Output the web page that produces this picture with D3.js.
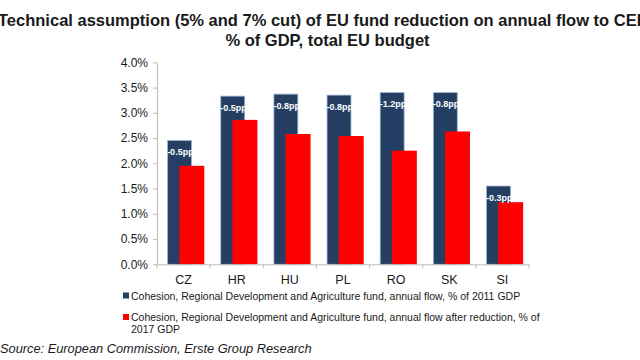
<!DOCTYPE html>
<html><head><meta charset="utf-8">
<script src="https://cdn.jsdelivr.net/npm/d3@7"></script>
<style>body{margin:0;background:#fff;overflow:hidden}svg{display:block;font-family:"Liberation Sans",Arial,sans-serif}</style>
</head><body>
<svg id="c" width="640" height="360"></svg>
<script>
const categories = ["CZ","HR","HU","PL","RO","SK","SI"];
const flow2011 = [2.45,3.33,3.37,3.35,3.40,3.40,1.55];
const flowAfter = [1.95,2.86,2.58,2.54,2.25,2.63,1.23];
const cutLabels = ["-0.5pp","-0.5pp","-0.8pp","-0.8pp","-1.2pp","-0.8pp","-0.3pp"];
const yTicks = [0,0.005,0.01,0.015,0.02,0.025,0.03,0.035,0.04];
const titleLines = ["Technical assumption (5% and 7% cut) of EU fund reduction on annual flow to CEE","% of GDP, total EU budget"];
const legendLabels = ["Cohesion, Regional Development and Agriculture fund, annual flow, % of 2011 GDP",
  ["Cohesion, Regional Development and Agriculture fund, annual flow after reduction, % of","2017 GDP"]];
const source = "Source: European Commission, Erste Group Research";

const navy = "#243F63", red = "#FF0000", txt = "#1a1a1a";
const svg = d3.select("#c");
const x0 = 157, x1 = 529, yTop = 62.3, yBot = 264.3;
const x = d3.scaleBand().domain(categories).range([x0, x1]);
const y = d3.scaleLinear().domain([0, 0.04]).range([yBot, yTop]);

// title
svg.append("text").attr("x",-2).attr("y",26).attr("font-size",16.5).attr("font-weight","bold").attr("fill",txt).text(titleLines[0]);
svg.append("text").attr("x",327.5).attr("y",46).attr("text-anchor","middle").attr("font-size",16.5).attr("font-weight","bold").attr("fill",txt).text(titleLines[1]);

// y axis
const yAxis = d3.axisLeft(y).tickValues(yTicks).tickFormat(d3.format(".1%")).tickSize(4).tickSizeOuter(0);
const gy = svg.append("g").attr("transform",`translate(${x0},0)`).call(yAxis);
gy.select(".domain").attr("stroke","#bbb");
gy.selectAll(".tick line").attr("stroke","#bbb");
gy.selectAll(".tick text").attr("font-size",12).attr("fill",txt).attr("font-family","Liberation Sans, Arial, sans-serif").attr("x",-9);

// bars
const bw = x.bandwidth();
const g = svg.append("g");
g.selectAll("rect.n").data(categories).join("rect")
  .attr("x",(d)=>x(d)+bw*0.2).attr("width",bw*0.45)
  .attr("y",(d,i)=>y(flow2011[i]/100)).attr("height",(d,i)=>yBot-y(flow2011[i]/100))
  .attr("fill",navy).attr("stroke","#9fb3cc").attr("stroke-width",0.8);
g.selectAll("rect.r").data(categories).join("rect")
  .attr("x",(d)=>x(d)+bw*0.42).attr("width",bw*0.47)
  .attr("y",(d,i)=>y(flowAfter[i]/100)).attr("height",(d,i)=>yBot-y(flowAfter[i]/100))
  .attr("fill",red);
g.selectAll("text.l").data(categories).join("text")
  .attr("x",(d)=>x(d)+bw*0.2-0.5).attr("y",(d,i)=>y(flow2011[i]/100)+14.5)
  .attr("font-size",9).attr("font-weight","bold").attr("fill","#fff")
  .text((d,i)=>cutLabels[i]);

// x axis
const xAxis = d3.axisBottom(x).tickSize(4).tickSizeOuter(0);
const gx = svg.append("g").attr("transform",`translate(0,${yBot})`).call(xAxis);
gx.select(".domain").attr("stroke","#bbb");
gx.selectAll(".tick line").attr("stroke","#bbb").attr("transform",`translate(${-bw/2},0)`);
gx.selectAll(".tick text").attr("font-size",12.5).attr("fill",txt).attr("font-family","Liberation Sans, Arial, sans-serif").attr("y",11);
gx.append("line").attr("x1",x1).attr("x2",x1).attr("y1",0).attr("y2",4).attr("stroke","#bbb");

// legend
const lg = svg.append("g");
lg.append("rect").attr("x",123).attr("y",292.5).attr("width",6).attr("height",6).attr("fill",navy);
lg.append("text").attr("x",131).attr("y",299.5).attr("font-size",10.5).attr("fill",txt).text(legendLabels[0]);
lg.append("rect").attr("x",123).attr("y",314).attr("width",6).attr("height",6).attr("fill",red);
lg.append("text").attr("x",131).attr("y",321).attr("font-size",10.5).attr("fill",txt).text(legendLabels[1][0]);
lg.append("text").attr("x",131).attr("y",332.5).attr("font-size",10.5).attr("fill",txt).text(legendLabels[1][1]);

svg.append("text").attr("x",0).attr("y",353).attr("font-size",12.8).attr("font-style","italic").attr("fill",txt).text(source);
</script>
</body></html>
